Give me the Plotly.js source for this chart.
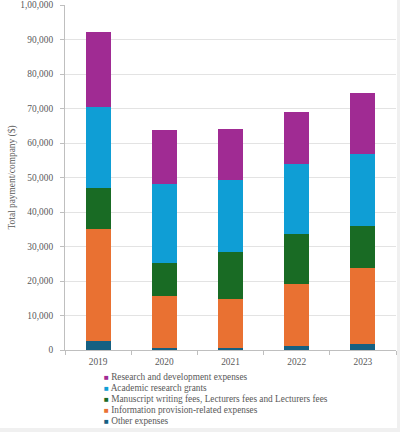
<!DOCTYPE html>
<html>
<head>
<meta charset="utf-8">
<script src="https://cdn.plot.ly/plotly-3.0.1.min.js"></script>
<style>
  html, body { margin: 0; padding: 0; background: #f0f0f0; }
  #chart { width: 397px; height: 428px; background: #fff; border-right: 1px solid #d9d9d9; border-bottom: 1px solid #d9d9d9; box-sizing: border-box; }
</style>
</head>
<body>
<div id="chart"></div>
<script>
// Stacked payment per company, by expense type and year
const years = ["2019", "2020", "2021", "2022", "2023"];

const otherExpenses = [2700, 600, 500, 1300, 1700];
const infoProvision = [32500, 15000, 14200, 17800, 22100];
const manuscriptFees = [11800, 9600, 13600, 14400, 12000];
const academicGrants = [23300, 22900, 21000, 20400, 21000];
const researchDev = [21800, 15700, 14900, 15100, 17700];

const yTickVals = [0, 10000, 20000, 30000, 40000, 50000, 60000, 70000, 80000, 90000, 100000];
const yTickText = ["0", "10,000", "20,000", "30,000", "40,000", "50,000", "60,000", "70,000", "80,000", "90,000", "1,00,000"];

// bottom to top of the stack
const SERIES = [
  { name: "Other expenses", y: otherExpenses, color: "#156082" },
  { name: "Information provision-related expenses", y: infoProvision, color: "#E97132" },
  { name: "Manuscript writing fees, Lecturers fees and Lecturers fees", y: manuscriptFees, color: "#196B24" },
  { name: "Academic research grants", y: academicGrants, color: "#0F9ED5" },
  { name: "Research and development expenses", y: researchDev, color: "#A02B93" },
];

const FONT = "Liberation Serif";
const TEXT_COLOR = "#595959";
const AXIS_COLOR = "#bfbfbf";
const TICK_FONT = { family: FONT, size: 9.4, color: TEXT_COLOR };

const traces = SERIES.map((s) => ({
  type: "bar",
  name: s.name,
  x: years,
  y: s.y,
  marker: { color: s.color, line: { width: 0 } },
  showlegend: false,
}));

// Legend drawn as text lines, top entry = top of stack
const legendLines = SERIES.slice().reverse().map((s, i) => ({
  xref: "paper", yref: "paper",
  x: 0.112, xanchor: "left",
  y: -0.0774 - i * 0.0322, yanchor: "middle",
  showarrow: false,
  text: `<span style="color:${s.color};font-size:8px">■</span> ${s.name}`,
  font: { family: FONT, size: 9.3, color: TEXT_COLOR },
}));

Plotly.newPlot(
  "chart",
  traces,
  {
    width: 397,
    height: 428,
    paper_bgcolor: "#ffffff",
    plot_bgcolor: "#ffffff",
    font: { family: FONT, size: 9.4, color: TEXT_COLOR },
    margin: { t: 5, r: 1, b: 78, l: 65 },
    barmode: "stack",
    bargap: 0.62,
    xaxis: {
      type: "category",
      showgrid: false,
      showline: true,
      linecolor: AXIS_COLOR,
      ticks: "outside",
      tickson: "boundaries",
      ticklen: 4,
      tickcolor: AXIS_COLOR,
      ticklabelstandoff: 3,
      tickfont: TICK_FONT,
    },
    yaxis: {
      range: [0, 100000],
      tickvals: yTickVals,
      ticktext: yTickText,
      ticklabeloverflow: "allow",
      ticklabelstandoff: 5,
      automargin: true,
      showgrid: true,
      gridcolor: "#e3e3e3",
      zeroline: false,
      showline: true,
      linecolor: AXIS_COLOR,
      ticks: "outside",
      ticklen: 4,
      tickcolor: AXIS_COLOR,
      tickfont: TICK_FONT,
      title: { text: "Total payment/company ($)", font: { family: FONT, size: 9.4, color: TEXT_COLOR }, standoff: 3 },
    },
    annotations: legendLines,
  },
  { displayModeBar: false, staticPlot: true }
);
</script>
</body>
</html>
